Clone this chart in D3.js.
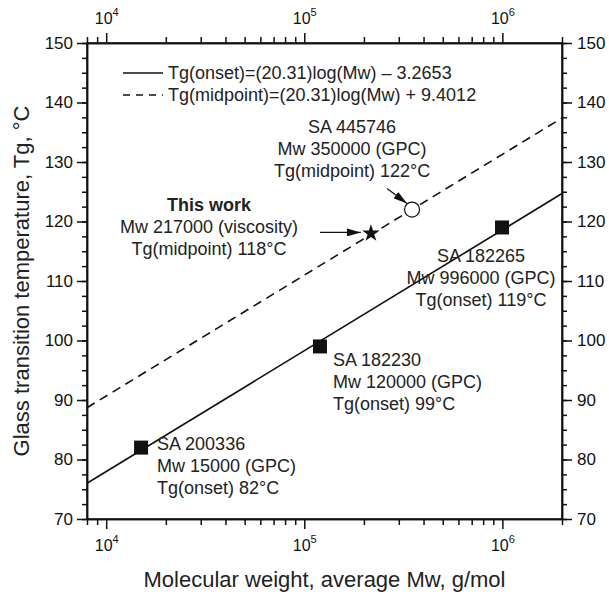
<!DOCTYPE html>
<html>
<head>
<meta charset="utf-8">
<script src="https://cdn.jsdelivr.net/npm/d3@7"></script>
<style>
  body { margin: 0; background: #fff; }
  svg { font-family: "Liberation Sans", Arial, sans-serif; }
  .tick line, .domain { stroke: #111; stroke-width: 1.5; }
</style>
</head>
<body>
<svg id="chart" width="609" height="598"></svg>
<script>
// fitted lines, end points
var lineMw  = [8000, 2000000];
var onsetTg = [76.0, 124.7];
var midTg   = [88.7, 137.4];

// GPC samples (filled squares)
var sampleMw = [15000, 120000, 996000];
var sampleTg = [82, 99, 119];
var sampleText = [
	["SA 200336", "Mw 15000 (GPC)", "Tg(onset) 82°C"],
	["SA 182230", "Mw 120000 (GPC)", "Tg(onset) 99°C"],
	["SA 182265", "Mw 996000 (GPC)", "Tg(onset) 119°C"]
];

// reference sample (open circle) and this work (star)
var refMw = [350000];
var refTg = [122];
var refText = ["SA 445746", "Mw 350000 (GPC)", "Tg(midpoint) 122°C"];
var workMw = [217000];
var workTg = [118];
var workText = ["This work", "Mw 217000 (viscosity)", "Tg(midpoint) 118°C"];

var legendText = ["Tg(onset)=(20.31)log(Mw) \u2013 3.2653",
                  "Tg(midpoint)=(20.31)log(Mw) + 9.4012"];

var xMajor = [1e4, 1e5, 1e6];
var xExp = ["4", "5", "6"];
var yMajor = [70, 80, 90, 100, 110, 120, 130, 140, 150];

var svg = d3.select("#chart");
var plot = {l: 87, r: 562, t: 43, b: 519};

var x = d3.scaleLog().domain([8000, 2000000]).range([plot.l, plot.r]);
var y = d3.scaleLinear().domain([70, 150]).range([plot.b, plot.t]);

// minor ticks: 2..9 in every decade, and every 2.5 degrees
var xMinor = [];
[1e3, 1e4, 1e5, 1e6].forEach(function(d) {
	for (var k = 2; k < 10; k++) {
		var v = k * d;
		if (v >= 8000 && v <= 2000000) xMinor.push(v);
	}
});
var yMinor = d3.range(70, 150.1, 2.5);

function addAxis(axis, tx, ty) {
	return svg.append("g")
		.attr("transform", "translate(" + tx + "," + ty + ")")
		.call(axis.tickSizeOuter(0));
}

// bottom / top
addAxis(d3.axisBottom(x).tickValues(xMinor).tickSize(6).tickFormat(""), 0, plot.b);
var xb = addAxis(d3.axisBottom(x).tickValues(xMajor).tickSize(10).tickFormat(""), 0, plot.b);
addAxis(d3.axisTop(x).tickValues(xMinor).tickSize(6).tickFormat(""), 0, plot.t);
var xt = addAxis(d3.axisTop(x).tickValues(xMajor).tickSize(10).tickFormat(""), 0, plot.t);

function powLabel(sel, baseY) {
	sel.selectAll(".tick").append("text")
		.attr("y", baseY)
		.attr("fill", "#111")
		.attr("text-anchor", "middle")
		.style("font-size", "16px")
		.each(function(d, i) {
			var t = d3.select(this);
			t.append("tspan").text("10");
			t.append("tspan").attr("dy", -8).style("font-size", "11px").text(xExp[i]);
		});
}
powLabel(xb, 551 - plot.b);
powLabel(xt, 24 - plot.t);

// left / right
addAxis(d3.axisLeft(y).tickValues(yMinor).tickSize(5).tickFormat(""), plot.l, 0);
addAxis(d3.axisLeft(y).tickValues(yMajor).tickSize(10).tickPadding(4), plot.l, 0)
	.selectAll("text").style("font-size", "17px").attr("fill", "#111");
addAxis(d3.axisRight(y).tickValues(yMinor).tickSize(5).tickFormat(""), plot.r, 0);
addAxis(d3.axisRight(y).tickValues(yMajor).tickSize(10).tickPadding(5), plot.r, 0)
	.selectAll("text").style("font-size", "17px").attr("fill", "#111");

svg.append("rect")
	.attr("x", plot.l).attr("y", plot.t)
	.attr("width", plot.r - plot.l).attr("height", plot.b - plot.t)
	.attr("fill", "none").attr("stroke", "#111").attr("stroke-width", 1.5);

// axis titles
svg.append("text")
	.attr("x", (plot.l + plot.r) / 2).attr("y", 587)
	.attr("text-anchor", "middle").style("font-size", "22px").attr("fill", "#222")
	.text("Molecular weight, average Mw, g/mol");
svg.append("text")
	.attr("transform", "translate(29," + (plot.t + plot.b) / 2 + ")rotate(-90)")
	.attr("text-anchor", "middle").style("font-size", "22px").attr("fill", "#222")
	.text("Glass transition temperature, Tg, \u00B0C");

// fitted lines
var line = d3.line().x(function(d) { return x(d[0]); }).y(function(d) { return y(d[1]); });
svg.append("path")
	.attr("d", line(d3.zip(lineMw, onsetTg)))
	.attr("fill", "none").attr("stroke", "#111").attr("stroke-width", 1.6);
svg.append("path")
	.attr("d", line(d3.zip(lineMw, midTg)))
	.attr("fill", "none").attr("stroke", "#111").attr("stroke-width", 1.6)
	.attr("stroke-dasharray", "9,6");

// legend
var legY = [73, 95];
legendText.forEach(function(t, i) {
	svg.append("line")
		.attr("x1", 123).attr("x2", 163).attr("y1", legY[i]).attr("y2", legY[i])
		.attr("stroke", "#111").attr("stroke-width", 1.6)
		.attr("stroke-dasharray", i ? "7,6" : null);
	svg.append("text")
		.attr("x", 168).attr("y", legY[i]).attr("dy", "0.35em")
		.style("font-size", "18px").attr("fill", "#222")
		.text(t);
});

// arrow head
svg.append("defs").append("marker")
	.attr("id", "head")
	.attr("markerUnits", "userSpaceOnUse")
	.attr("markerWidth", 14).attr("markerHeight", 8)
	.attr("refX", 14).attr("refY", 4)
	.attr("orient", "auto")
	.append("path").attr("d", "M0,0L14,4L0,8Z").attr("fill", "#111");

function arrow(x1, y1, x2, y2) {
	svg.append("line")
		.attr("x1", x1).attr("y1", y1).attr("x2", x2).attr("y2", y2)
		.attr("stroke", "#111").attr("stroke-width", 1.3)
		.attr("marker-end", "url(#head)");
}

// squares
var sq = 14;
svg.selectAll("rect.sample")
	.data(d3.zip(sampleMw, sampleTg))
	.join("rect")
	.attr("class", "sample")
	.attr("x", function(d) { return x(d[0]) - sq / 2; })
	.attr("y", function(d) { return y(d[1]) - sq / 2; })
	.attr("width", sq).attr("height", sq)
	.attr("fill", "#111");

// open circle
svg.selectAll("circle.ref")
	.data(d3.zip(refMw, refTg))
	.join("circle")
	.attr("class", "ref")
	.attr("cx", function(d) { return x(d[0]); })
	.attr("cy", function(d) { return y(d[1]); })
	.attr("r", 7.5)
	.attr("fill", "#fff").attr("stroke", "#111").attr("stroke-width", 1.2);

// star
svg.selectAll("path.work")
	.data(d3.zip(workMw, workTg))
	.join("path")
	.attr("class", "work")
	.attr("transform", function(d) { return "translate(" + x(d[0]) + "," + y(d[1]) + ")"; })
	.attr("d", d3.symbol(d3.symbolStar).size(95))
	.attr("fill", "#111");

function block(lines, px, py, anchor, boldFirst) {
	var t = svg.append("text")
		.attr("text-anchor", anchor)
		.style("font-size", "18px").attr("fill", "#222");
	lines.forEach(function(s, i) {
		t.append("tspan").attr("x", px).attr("y", py + i * 22)
			.style("font-weight", boldFirst && i == 0 ? "bold" : null)
			.text(s);
	});
}

// annotations, offset from their marks
block(sampleText[0], x(sampleMw[0]) + 16, y(sampleTg[0]) + 2, "start");
block(sampleText[1], x(sampleMw[1]) + 13, y(sampleTg[1]) + 20, "start");
block(sampleText[2], x(sampleMw[2]) - 21, y(sampleTg[2]) + 35, "middle");
block(refText, x(refMw[0]) - 60, y(refTg[0]) - 77, "middle");
block(workText, x(workMw[0]) - 162, y(workTg[0]) - 22, "middle", true);

arrow(x(refMw[0]) - 25, y(refTg[0]) - 21, x(refMw[0]) - 5, y(refTg[0]) - 6);
arrow(x(workMw[0]) - 51, y(workTg[0]) - 1, x(workMw[0]) - 10, y(workTg[0]) - 1);
</script>
</body>
</html>
